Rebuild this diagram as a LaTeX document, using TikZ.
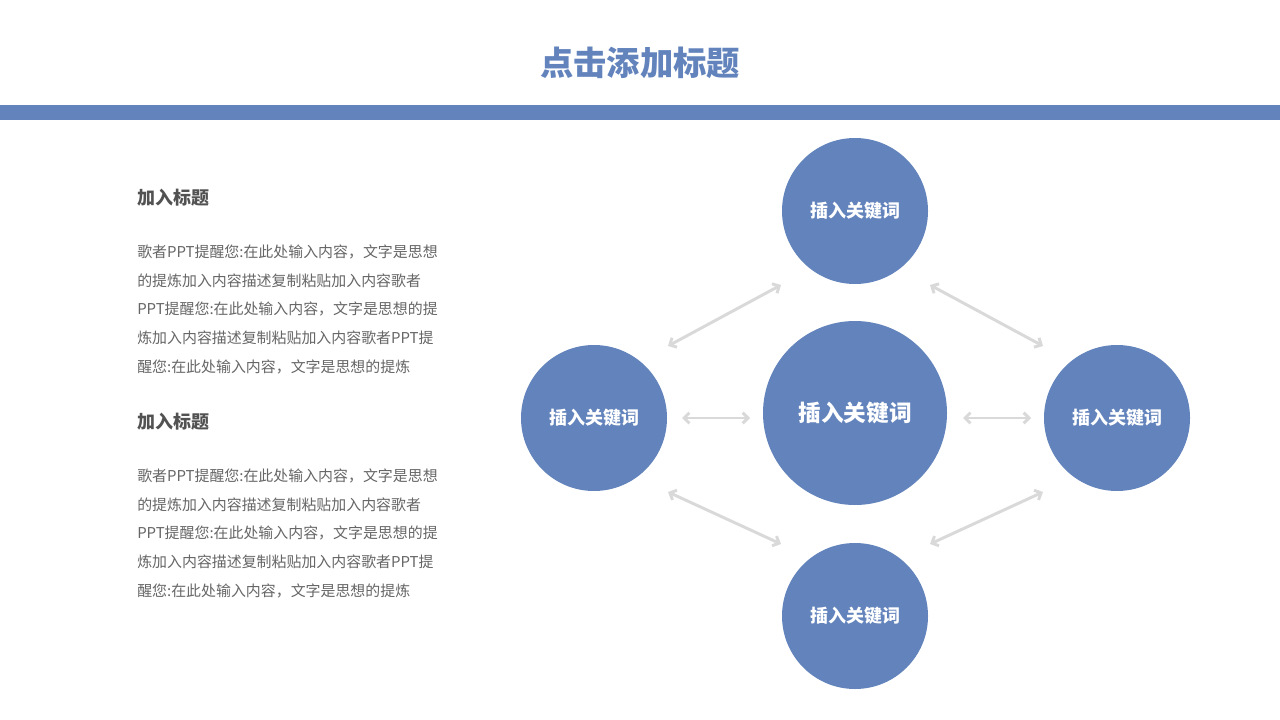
\documentclass[tikz,border=0pt]{standalone}
\usepackage{fontspec}
\setmainfont{Noto Sans CJK SC}
\usetikzlibrary{arrows.meta}
\definecolor{mblue}{HTML}{6283BC}
\definecolor{agray}{HTML}{D9D9D9}
\tikzset{
  circ/.style={circle,fill=mblue,inner sep=0pt,text=white,font=\bfseries\fontsize{13.5}{16}\selectfont},
  link/.style={draw=agray,line width=2.2pt,{Straight Barb[length=4pt,width=8pt]}-{Straight Barb[length=4pt,width=8pt]}},
  head/.style={anchor=west,text=black!68,font=\bfseries\fontsize{13.5}{16}\selectfont},
  body/.style={anchor=west,text=black!60,font=\fontsize{11.2}{13}\selectfont,inner sep=0pt}
}
\begin{document}
\begin{tikzpicture}[x=0.75pt,y=-0.75pt]
\useasboundingbox[fill=white] (0,0) rectangle (1280,720);
\node[text=mblue,font=\bfseries\fontsize{25}{30}\selectfont] (title) at (640,63) {点击添加标题};
\fill[mblue] (0,105) rectangle (1280,120);
\node[head,inner sep=0pt] (h1) at (137,198) {加入标题};
\node[body] (a1) at (137,252) {歌者PPT提醒您:在此处输入内容，文字是思想};
\node[body] (a2) at (137,281) {的提炼加入内容描述复制粘贴加入内容歌者};
\node[body] (a3) at (137,309) {PPT提醒您:在此处输入内容，文字是思想的提};
\node[body] (a4) at (137,338) {炼加入内容描述复制粘贴加入内容歌者PPT提};
\node[body] (a5) at (137,367) {醒您:在此处输入内容，文字是思想的提炼};
\node[head,inner sep=0pt] (h2) at (137,422) {加入标题};
\node[body] (b1) at (137,476) {歌者PPT提醒您:在此处输入内容，文字是思想};
\node[body] (b2) at (137,505) {的提炼加入内容描述复制粘贴加入内容歌者};
\node[body] (b3) at (137,533) {PPT提醒您:在此处输入内容，文字是思想的提};
\node[body] (b4) at (137,562) {炼加入内容描述复制粘贴加入内容歌者PPT提};
\node[body] (b5) at (137,591) {醒您:在此处输入内容，文字是思想的提炼};
\node[circ,minimum size=146*0.75pt] (top) at (855,211) {插入关键词};
\node[circ,minimum size=146*0.75pt] (left) at (594,418) {插入关键词};
\node[circ,minimum size=146*0.75pt] (right) at (1117,418) {插入关键词};
\node[circ,minimum size=146*0.75pt] (bot) at (855,616) {插入关键词};
\node[circ,minimum size=184*0.75pt,font=\bfseries\fontsize{17}{20}\selectfont] (mid) at (855,413) {插入关键词};
\coordinate (p1) at (668,346); \coordinate (p2) at (781,285);
\coordinate (p3) at (930,285); \coordinate (p4) at (1043,346);
\coordinate (p5) at (682,418); \coordinate (p6) at (750,418);
\coordinate (p7) at (963,418); \coordinate (p8) at (1031,418);
\coordinate (p9) at (668,492); \coordinate (p10) at (781,544);
\coordinate (p11) at (930,544); \coordinate (p12) at (1043,492);
\draw[link] (p1) -- (p2);
\draw[link] (p3) -- (p4);
\draw[link] (p5) -- (p6);
\draw[link] (p7) -- (p8);
\draw[link] (p9) -- (p10);
\draw[link] (p11) -- (p12);
\end{tikzpicture}
\end{document}
